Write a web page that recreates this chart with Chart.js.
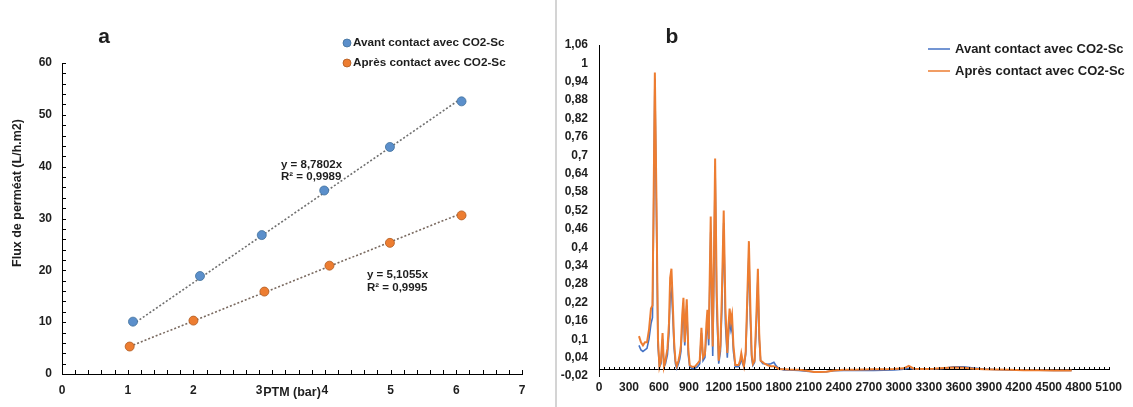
<!DOCTYPE html>
<html>
<head>
<meta charset="utf-8">
<script src="https://cdn.jsdelivr.net/npm/chart.js@4"></script>
<style>
  body { margin: 0; background: #fff; }
  #wrap { position: relative; width: 1133px; height: 407px; overflow: hidden; }
  #chartA { position: absolute; left: 0; top: 0; }
  #chartB { position: absolute; left: 557px; top: 0; }
  #sep { position: absolute; left: 555px; top: 0; width: 2px; height: 407px; background: #d4d4d4; }
</style>
</head>
<body>
<div id="wrap">
  <canvas id="chartA" width="555" height="407"></canvas>
  <div id="sep"></div>
  <canvas id="chartB" width="576" height="407"></canvas>
</div>
<script>
"use strict";

// ---- panel a : flux vs PTM ----
const ptmAvant = [1.08, 2.1, 3.04, 3.99, 4.99, 6.08];
const fluxAvant = [10.1, 18.9, 26.8, 35.4, 43.8, 52.6];
const ptmApres = [1.03, 2.0, 3.08, 4.07, 4.99, 6.08];
const fluxApres = [5.3, 10.3, 15.9, 20.9, 25.3, 30.6];
// trendline end points (y = 8,7802x and y = 5,1055x)
const trendAvantX = [1.08, 6.08];
const trendAvantY = [9.6, 53.2];
const trendApresX = [1.03, 6.08];
const trendApresY = [5.3, 31.0];

// ---- panel b : spectra ----
const xB = [400, 420, 440, 460, 480, 500, 520, 535, 545, 559, 575, 590, 605, 620, 636, 650, 665, 685, 700, 712,
  725, 738, 752, 765, 778, 795, 808, 820, 833, 845, 858, 870, 878, 893, 908, 930, 958, 985, 1008, 1025,
  1041, 1060, 1075, 1085, 1098, 1118, 1138, 1150, 1162, 1178, 1198, 1215, 1230, 1248, 1265, 1284, 1297, 1307, 1320, 1331,
  1345, 1364, 1397, 1412, 1424, 1437, 1450, 1468, 1485, 1500, 1515, 1528, 1540, 1557, 1575, 1590, 1603, 1617, 1640, 1657,
  1690, 1720, 1750, 1775, 1800, 1850, 1900, 2000, 2100, 2150, 2200, 2275, 2350, 2450, 2550, 2650, 2750, 2850, 2950, 3050,
  3100, 3150, 3250, 3350, 3450, 3550, 3650, 3750, 3850, 3950, 4100, 4250, 4400, 4550, 4730];
const apresB = [0.11, 0.09, 0.08, 0.09, 0.09, 0.13, 0.20, 0.21, 0.50, 0.97, 0.55, 0.10, 0.01, 0.03, 0.12, 0.01, 0.03, 0.07, 0.15, 0.30,
  0.33, 0.22, 0.09, 0.03, 0.012, 0.03, 0.05, 0.08, 0.18, 0.235, 0.09, 0.18, 0.23, 0.07, 0.015, 0.01, 0.01, 0.02, 0.03, 0.137,
  0.04, 0.05, 0.15, 0.196, 0.10, 0.50, 0.076, 0.35, 0.69, 0.25, 0.03, 0.08, 0.25, 0.52, 0.20, 0.055, 0.15, 0.20, 0.16, 0.18,
  0.08, 0.016, 0.016, 0.03, 0.054, 0.03, 0.012, 0.06, 0.25, 0.42, 0.20, 0.05, 0.02, 0.03, 0.18, 0.33, 0.12, 0.03, 0.025, 0.02,
  0.015, 0.012, 0.012, 0.008, 0.003, 0.002, 0.001, 0.0, -0.004, -0.007, -0.007, -0.006, -0.002, 0.0, 0.0, 0.001, 0.002, 0.002, 0.003, 0.005,
  0.013, 0.004, 0.003, 0.004, 0.006, 0.008, 0.007, 0.004, 0.002, 0.001, 0.0, -0.001, -0.001, -0.002, -0.002];
const avantB = [0.08, 0.065, 0.06, 0.065, 0.07, 0.10, 0.15, 0.17, 0.45, 0.95, 0.50, 0.08, 0.01, 0.02, 0.10, 0.01, 0.02, 0.05, 0.12, 0.24,
  0.26, 0.18, 0.07, 0.02, 0.005, 0.02, 0.035, 0.06, 0.15, 0.20, 0.08, 0.15, 0.21, 0.05, 0.01, 0.005, 0.005, 0.01, 0.02, 0.12,
  0.03, 0.04, 0.12, 0.16, 0.08, 0.45, 0.045, 0.30, 0.66, 0.20, 0.02, 0.06, 0.20, 0.48, 0.15, 0.04, 0.12, 0.16, 0.13, 0.15,
  0.06, 0.01, 0.01, 0.02, 0.04, 0.02, 0.01, 0.05, 0.22, 0.38, 0.16, 0.04, 0.015, 0.025, 0.15, 0.30, 0.10, 0.03, 0.02, 0.02,
  0.018, 0.02, 0.025, 0.012, 0.004, 0.0, 0.0, -0.002, -0.005, -0.006, -0.007, -0.006, -0.003, -0.002, -0.002, -0.002, -0.002, -0.001, 0.0, 0.002,
  0.005, 0.002, 0.002, 0.003, 0.005, 0.01, 0.01, 0.006, 0.003, 0.001, 0.0, -0.001, -0.001, -0.002, -0.002];
const yTicksB = [-0.02, 0.04, 0.1, 0.16, 0.22, 0.28, 0.34, 0.4, 0.46, 0.52, 0.58, 0.64, 0.7, 0.76, 0.82, 0.88, 0.94, 1, 1.06];

const labelAvant = 'Avant contact avec CO2-Sc';
const labelApres = 'Après contact avec CO2-Sc';

const FONT = "'Liberation Sans', Arial, Helvetica, sans-serif";
const TXT = '#1e1e1e';
const BLUE_A = '#5b8fcb';
const ORANGE_A = '#ed7d31';
const BLUE_B = '#4472c4';
const ORANGE_B = '#ed7d31';

Chart.defaults.font.family = FONT;
Chart.defaults.font.weight = 'bold';
Chart.defaults.color = TXT;

const toPoints = (xs, ys) => xs.map((x, i) => ({x: x, y: ys[i]}));

// small inward tick marks, like the spreadsheet axes
function inwardTicks(ctx, scale, from, to, step, len, horizontal, crossPx) {
    ctx.save();
    ctx.strokeStyle = '#000';
    ctx.lineWidth = 1;
    ctx.beginPath();
    for (let v = from; v <= to + 1e-9; v += step) {
        const p = Math.round(scale.getPixelForValue(v)) + 0.5;
        if (horizontal) {
            ctx.moveTo(p, crossPx);
            ctx.lineTo(p, crossPx - len);
        } else {
            ctx.moveTo(crossPx, p);
            ctx.lineTo(crossPx + len, p);
        }
    }
    ctx.stroke();
    ctx.restore();
}

function text(ctx, str, x, y, size, align) {
    ctx.font = 'bold ' + size + 'px ' + FONT;
    ctx.fillStyle = TXT;
    ctx.textAlign = align || 'left';
    ctx.textBaseline = 'middle';
    ctx.fillText(str, x, y);
}

// ---------------- chart a ----------------
const decorA = {
    id: 'decorA',
    afterDraw(chart) {
        const ctx = chart.ctx;
        const xs = chart.scales.x, ys = chart.scales.y;
        const area = chart.chartArea;
        inwardTicks(ctx, ys, 0, 60, 2, 4, false, area.left);
        inwardTicks(ctx, xs, 0, 7, 0.2, 4, true, area.bottom);

        text(ctx, 'a', 104, 37, 21, 'center');

        ctx.save();
        ctx.translate(18, 193);
        ctx.rotate(-Math.PI / 2);
        text(ctx, 'Flux de perméat (L/h.m2)', 0, 0, 12.5, 'center');
        ctx.restore();

        text(ctx, 'PTM (bar)', xs.getPixelForValue(3.5), 393, 12.5, 'center');

        text(ctx, 'y = 8,7802x', 281, 165, 11.5);
        text(ctx, 'R² = 0,9989', 281, 177, 11.5);
        text(ctx, 'y = 5,1055x', 367, 275, 11.5);
        text(ctx, 'R² = 0,9995', 367, 288, 11.5);

        // legend
        const items = [[labelAvant, BLUE_A, '#41719c', 43], [labelApres, ORANGE_A, '#ae5a21', 63]];
        items.forEach(([lbl, fill, edge, y]) => {
            ctx.beginPath();
            ctx.arc(347, y, 4, 0, Math.PI * 2);
            ctx.fillStyle = fill;
            ctx.fill();
            ctx.strokeStyle = edge;
            ctx.lineWidth = 0.8;
            ctx.stroke();
            text(ctx, lbl, 353, y, 11.7);
        });
    }
};

new Chart(document.getElementById('chartA'), {
    type: 'scatter',
    data: {
        datasets: [
            {
                label: labelAvant,
                data: toPoints(ptmAvant, fluxAvant),
                backgroundColor: BLUE_A,
                borderColor: '#41719c',
                borderWidth: 0.8,
                pointRadius: 4.5
            },
            {
                label: labelApres,
                data: toPoints(ptmApres, fluxApres),
                backgroundColor: ORANGE_A,
                borderColor: '#ae5a21',
                borderWidth: 0.8,
                pointRadius: 4.5
            },
            {
                data: toPoints(trendAvantX, trendAvantY),
                showLine: true,
                borderColor: '#6f6f6f',
                borderWidth: 1.6,
                borderDash: [2, 2],
                pointRadius: 0
            },
            {
                data: toPoints(trendApresX, trendApresY),
                showLine: true,
                borderColor: '#7a6a60',
                borderWidth: 1.6,
                borderDash: [2, 2],
                pointRadius: 0
            }
        ]
    },
    options: {
        responsive: false,
        animation: false,
        events: [],
        layout: {padding: {top: 63, right: 33, left: 0, bottom: 0}},
        plugins: {legend: {display: false}, tooltip: {enabled: false}},
        scales: {
            x: {
                type: 'linear',
                min: 0,
                max: 7,
                ticks: {stepSize: 1, padding: 9, font: {size: 12, weight: 'bold'}, color: TXT},
                grid: {display: false, drawTicks: false},
                border: {display: true, color: '#000', width: 1},
                afterFit: s => { s.height = 33; }
            },
            y: {
                min: 0,
                max: 60,
                ticks: {stepSize: 10, padding: 10, font: {size: 12, weight: 'bold'}, color: TXT},
                grid: {display: false, drawTicks: false},
                border: {display: true, color: '#000', width: 1},
                afterFit: s => { s.width = 62; }
            }
        }
    },
    plugins: [decorA]
});

// ---------------- chart b ----------------
const decorB = {
    id: 'decorB',
    afterDraw(chart) {
        const ctx = chart.ctx;
        const xs = chart.scales.x, ys = chart.scales.y;
        inwardTicks(ctx, xs, 0, 5100, 50, 3, true, Math.round(ys.getPixelForValue(0)));

        text(ctx, 'b', 115, 37, 21, 'center');

        const items = [[labelAvant, BLUE_B, 49], [labelApres, ORANGE_B, 71]];
        items.forEach(([lbl, col, y]) => {
            ctx.save();
            ctx.strokeStyle = col;
            ctx.lineWidth = 1.5;
            ctx.beginPath();
            ctx.moveTo(371, y);
            ctx.lineTo(393, y);
            ctx.stroke();
            ctx.restore();
            text(ctx, lbl, 398, y, 13);
        });
    }
};

new Chart(document.getElementById('chartB'), {
    type: 'line',
    data: {
        datasets: [
            {
                label: labelApres,
                data: toPoints(xB, apresB),
                borderColor: ORANGE_B,
                borderWidth: 2,
                pointRadius: 0,
                tension: 0
            },
            {
                label: labelAvant,
                data: toPoints(xB, avantB),
                borderColor: BLUE_B,
                borderWidth: 1.6,
                pointRadius: 0,
                tension: 0
            }
        ]
    },
    options: {
        responsive: false,
        animation: false,
        events: [],
        layout: {padding: {top: 45, right: 23, left: 0, bottom: 31}},
        plugins: {legend: {display: false}, tooltip: {enabled: false}},
        scales: {
            x: {
                type: 'linear',
                position: {y: 0},
                min: 0,
                max: 5100,
                ticks: {
                    stepSize: 300,
                    autoSkip: false,
                    maxRotation: 0,
                    padding: 11,
                    font: {size: 12, weight: 'bold'},
                    color: TXT,
                    callback: v => String(v)
                },
                grid: {display: false, drawTicks: false},
                border: {display: true, color: '#000', width: 1}
            },
            y: {
                min: -0.02,
                max: 1.06,
                afterBuildTicks: s => { s.ticks = yTicksB.map(v => ({value: v})); },
                ticks: {
                    autoSkip: false,
                    padding: 11,
                    font: {size: 12, weight: 'bold'},
                    color: TXT,
                    callback: v => String(v).replace('.', ',')
                },
                grid: {display: false, drawTicks: false},
                border: {display: true, color: '#000', width: 1},
                afterFit: s => { s.width = 42; }
            }
        }
    },
    plugins: [decorB]
});
</script>
</body>
</html>
